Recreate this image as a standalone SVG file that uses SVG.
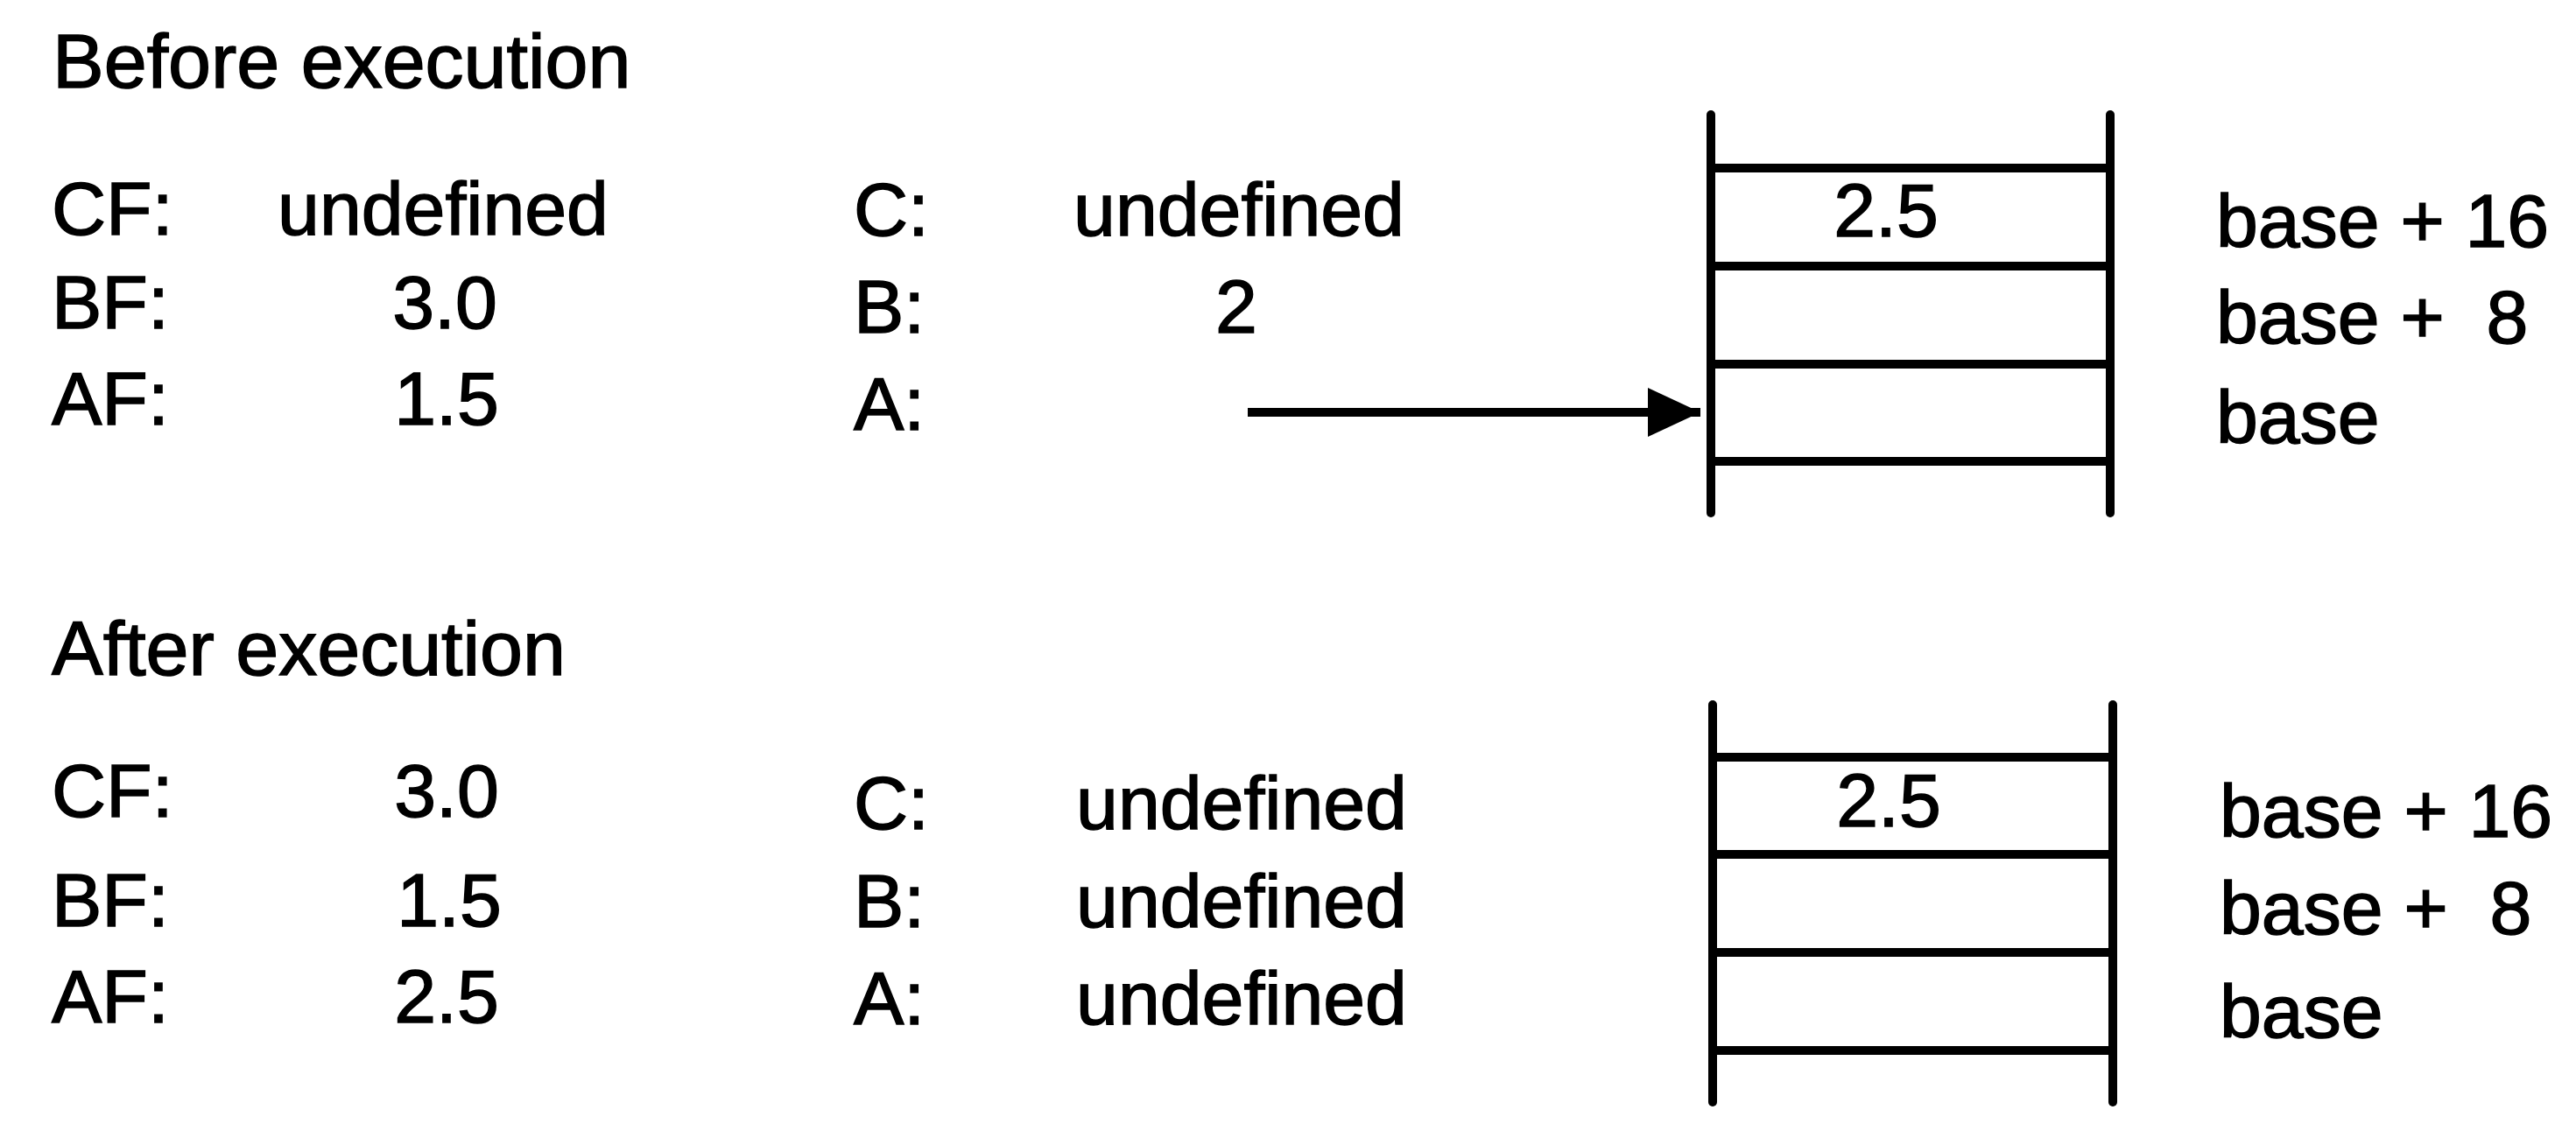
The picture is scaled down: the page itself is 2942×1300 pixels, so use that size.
<svg xmlns="http://www.w3.org/2000/svg" width="2942" height="1300" viewBox="0 0 2942 1300">
<style>
text{font-family:"Liberation Sans",Arial,sans-serif;font-size:86px;fill:#000;stroke:#000;stroke-width:1.5}
.h{font-size:88px}
.m{text-anchor:middle}
.ln{stroke:#000;stroke-width:10;fill:none;stroke-linecap:round}
.ar{stroke:#000;stroke-width:10;fill:none}
</style>
<defs>
<marker id="ah" markerUnits="userSpaceOnUse" markerWidth="62" markerHeight="56" refX="60" refY="28" orient="auto">
<path d="M0,0 L60,28 L0,56 Z" fill="#000"/>
</marker>
</defs>
<rect width="2942" height="1300" fill="#fff"/>

<g id="before">
<text class="h" x="60" y="100">Before execution</text>
<g id="before-floats">
<text x="59" y="268">CF:</text><text class="m" x="506" y="268">undefined</text>
<text x="59" y="375">BF:</text><text class="m" x="508" y="375">3.0</text>
<text x="59" y="485">AF:</text><text class="m" x="510" y="485">1.5</text>
</g>
<g id="before-ints">
<text x="975" y="269">C:</text><text class="m" x="1415" y="269">undefined</text>
<text x="975" y="380">B:</text><text class="m" x="1412" y="380">2</text>
<text x="975" y="491">A:</text>
</g>
<g id="before-stack">
<line class="ln" x1="1954" y1="131" x2="1954" y2="586"/>
<line class="ln" x1="2410" y1="131" x2="2410" y2="586"/>
<line class="ln" x1="1954" y1="192" x2="2410" y2="192"/>
<line class="ln" x1="1954" y1="304" x2="2410" y2="304"/>
<line class="ln" x1="1954" y1="416" x2="2410" y2="416"/>
<line class="ln" x1="1954" y1="527" x2="2410" y2="527"/>
<text class="m" x="2154" y="270">2.5</text>
</g>
<g id="before-labels">
<text x="2531" y="282">base + 16</text>
<text x="2531" y="392" xml:space="preserve">base +  8</text>
<text x="2531" y="506">base</text>
</g>
</g>

<g id="after">
<text class="h" x="59" y="771">After execution</text>
<g id="after-floats">
<text x="59" y="933">CF:</text><text class="m" x="510" y="933">3.0</text>
<text x="59" y="1058">BF:</text><text class="m" x="513" y="1058">1.5</text>
<text x="59" y="1168">AF:</text><text class="m" x="510" y="1168">2.5</text>
</g>
<g id="after-ints">
<text x="975" y="947">C:</text><text class="m" x="1418" y="947">undefined</text>
<text x="975" y="1059">B:</text><text class="m" x="1418" y="1059">undefined</text>
<text x="975" y="1170">A:</text><text class="m" x="1418" y="1170">undefined</text>
</g>
<g id="after-stack">
<line class="ln" x1="1956" y1="805" x2="1956" y2="1259"/>
<line class="ln" x1="2413" y1="805" x2="2413" y2="1259"/>
<line class="ln" x1="1956" y1="865" x2="2413" y2="865"/>
<line class="ln" x1="1956" y1="976" x2="2413" y2="976"/>
<line class="ln" x1="1956" y1="1088" x2="2413" y2="1088"/>
<line class="ln" x1="1956" y1="1200" x2="2413" y2="1200"/>
<text class="m" x="2157" y="944">2.5</text>
</g>
<g id="after-labels">
<text x="2535" y="956">base + 16</text>
<text x="2535" y="1067" xml:space="preserve">base +  8</text>
<text x="2535" y="1185">base</text>
</g>
</g>

<g id="connectors">
<line class="ar" x1="1425" y1="471" x2="1942" y2="471" marker-end="url(#ah)"/>
</g>
</svg>
